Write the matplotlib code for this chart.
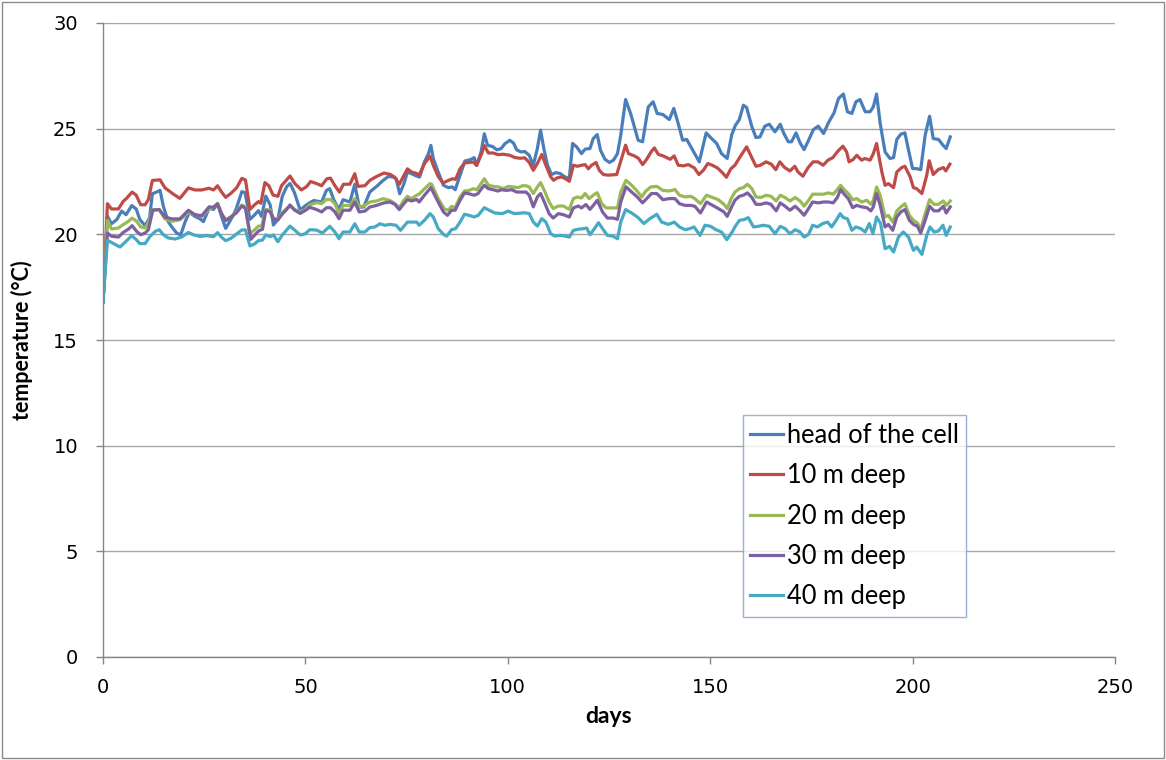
import matplotlib
matplotlib.use("Agg")
import matplotlib.pyplot as plt
from matplotlib.patches import Rectangle

series_labels = ["head of the cell", "10 m deep", "20 m deep", "30 m deep", "40 m deep"]
series_colors = ["#4A7EBB", "#BE4B48", "#98B954", "#7D60A0", "#46AAC5"]

head_days = [0, 1.1, 2.1, 3.4, 4.6, 5.7, 7.1, 8.2, 9.1, 10.4, 11.5, 12.2, 13.1, 14.1, 14.9, 16.1, 17.2, 18.2, 19.2, 20.3, 21.3, 22.7, 24.0, 24.8, 26.2, 27.3, 28.3, 29.3, 30.3, 31.6, 32.8, 34.3, 35.1, 36.3, 37.4, 38.4, 39.2, 40.2, 41.3, 42.1, 43.2, 44.3, 45.4, 46.2, 47.3, 48.7, 49.9, 51.1, 52.1, 54.0, 55.2, 56.0, 57.0, 58.3, 59.3, 61.0, 62.2, 63.3, 64.4, 65.9, 67.6, 69.2, 70.5, 71.7, 72.4, 73.3, 74.3, 75.2, 76.2, 77.2, 78.2, 79.4, 80.4, 81.0, 81.6, 82.8, 84.1, 85.3, 86.3, 87.0, 88.2, 89.4, 90.7, 91.7, 92.3, 93.4, 94.2, 95.0, 96.2, 97.3, 98.3, 99.3, 100.5, 101.4, 102.2, 103.2, 104.2, 105.3, 106.3, 107.3, 108.1, 108.9, 109.8, 110.8, 111.9, 112.9, 114.1, 115.2, 116.0, 117.0, 118.2, 119.1, 120.3, 121.1, 122.1, 122.9, 124.0, 125.1, 126.1, 127.1, 127.9, 129.1, 130.4, 132.2, 133.3, 134.7, 135.9, 136.9, 138.3, 139.9, 141.0, 142.1, 143.2, 144.2, 145.7, 147.3, 149.0, 150.1, 151.6, 152.8, 154.2, 155.3, 156.2, 157.2, 158.2, 159.0, 160.3, 161.3, 162.3, 163.5, 164.6, 166.0, 167.3, 168.2, 169.3, 170.1, 171.2, 172.2, 173.2, 174.3, 175.5, 176.7, 178.0, 179.2, 180.6, 181.7, 182.9, 183.9, 185.0, 186.0, 187.0, 188.3, 189.5, 190.3, 191.1, 192.0, 193.2, 194.4, 195.3, 196.1, 197.1, 198.1, 199.0, 200.0, 201.0, 202.0, 203.1, 204.2, 205.1, 206.4, 207.5, 208.3, 209.3]
head_temp = [16.8, 20.85, 20.5, 20.7, 21.1, 20.93, 21.36, 21.2, 20.7, 20.41, 20.77, 21.92, 21.99, 22.08, 21.33, 20.6, 20.3, 20.06, 19.98, 20.6, 21.04, 20.85, 20.73, 20.6, 21.23, 21.18, 21.44, 20.84, 20.28, 20.71, 21.15, 22.02, 21.97, 20.71, 20.91, 21.12, 20.84, 21.81, 21.39, 20.44, 20.71, 21.81, 22.26, 22.41, 21.97, 21.15, 21.34, 21.5, 21.6, 21.53, 22.08, 22.16, 21.64, 21.17, 21.64, 21.53, 22.37, 21.29, 21.29, 22.0, 22.27, 22.55, 22.74, 22.71, 22.63, 21.92, 22.37, 22.95, 22.87, 22.78, 22.71, 23.42, 23.82, 24.21, 23.58, 22.95, 22.32, 22.21, 22.24, 22.11, 22.79, 23.47, 23.53, 23.63, 23.26, 23.9, 24.76, 24.21, 24.16, 24.0, 24.05, 24.29, 24.45, 24.32, 24.0, 23.9, 23.92, 23.74, 23.27, 24.06, 24.93, 24.06, 23.27, 22.83, 22.92, 22.88, 22.72, 22.64, 24.3, 24.14, 23.82, 24.03, 24.06, 24.53, 24.72, 23.98, 23.55, 23.4, 23.51, 23.82, 24.69, 26.38, 25.68, 24.45, 24.38, 26.03, 26.27, 25.72, 25.67, 25.43, 25.96, 25.24, 24.45, 24.49, 23.98, 23.43, 24.8, 24.58, 24.3, 23.82, 23.59, 24.7, 25.15, 25.43, 26.11, 26.0, 25.09, 24.58, 24.61, 25.12, 25.21, 24.85, 25.21, 24.77, 24.38, 24.38, 24.8, 24.33, 24.01, 24.45, 24.96, 25.12, 24.77, 25.28, 25.75, 26.43, 26.64, 25.8, 25.72, 26.27, 26.38, 25.8, 25.8, 26.03, 26.64, 25.24, 23.9, 23.59, 23.63, 24.49, 24.74, 24.8, 23.98, 23.11, 23.11, 23.06, 24.69, 25.59, 24.53, 24.49, 24.22, 24.06, 24.61]

d10_days = [0, 1.1, 2.1, 3.8, 5.0, 5.8, 7.2, 8.2, 9.3, 10.4, 11.2, 12.2, 14.1, 15.3, 17.4, 19.0, 21.1, 22.7, 24.4, 26.2, 27.3, 28.3, 29.3, 30.3, 31.6, 33.0, 34.3, 35.2, 36.3, 37.4, 38.4, 39.0, 40.0, 41.0, 42.0, 43.2, 44.1, 45.0, 46.2, 47.4, 49.0, 50.3, 51.3, 52.8, 54.0, 55.3, 56.2, 57.3, 58.4, 59.4, 61.0, 62.2, 63.0, 64.7, 65.9, 67.6, 69.4, 70.9, 72.1, 73.2, 74.2, 75.2, 76.2, 77.5, 78.1, 79.4, 80.8, 81.6, 82.8, 84.0, 85.3, 86.3, 87.1, 88.2, 89.3, 90.2, 91.5, 92.3, 93.5, 94.2, 95.2, 96.4, 97.6, 98.9, 100.5, 101.8, 103.0, 104.2, 105.3, 106.3, 107.3, 108.4, 109.4, 110.6, 111.3, 112.2, 113.3, 114.5, 115.2, 116.2, 117.2, 118.2, 119.1, 119.9, 120.7, 121.8, 122.6, 123.6, 124.8, 126.9, 127.9, 129.1, 129.8, 131.3, 132.3, 133.3, 134.3, 135.4, 136.2, 137.2, 138.4, 140.1, 141.1, 142.1, 143.4, 144.6, 146.1, 147.2, 148.3, 149.4, 150.5, 151.8, 153.0, 154.0, 155.1, 156.1, 157.4, 159.0, 160.0, 161.3, 162.4, 163.8, 165.1, 166.2, 167.2, 168.4, 169.7, 170.9, 171.7, 172.9, 174.2, 175.4, 176.6, 177.9, 179.1, 180.3, 181.6, 182.8, 183.7, 184.3, 185.3, 186.2, 187.4, 188.2, 189.5, 190.3, 191.1, 192.4, 193.2, 194.0, 195.3, 196.1, 197.3, 198.1, 199.4, 200.2, 201.0, 202.3, 203.5, 204.1, 205.1, 206.3, 207.6, 208.2, 209.2]
d10_temp = [16.8, 21.45, 21.2, 21.2, 21.56, 21.7, 22.0, 21.85, 21.4, 21.4, 21.64, 22.55, 22.58, 22.2, 21.9, 21.7, 22.2, 22.1, 22.1, 22.18, 22.1, 22.3, 22.0, 21.75, 21.94, 22.2, 22.65, 22.57, 21.18, 21.39, 21.55, 21.47, 22.45, 22.29, 21.86, 21.8, 22.3, 22.5, 22.76, 22.4, 22.1, 22.26, 22.5, 22.4, 22.3, 22.63, 22.66, 22.3, 22.0, 22.37, 22.37, 22.87, 22.27, 22.3, 22.55, 22.74, 22.9, 22.84, 22.7, 22.37, 22.74, 23.1, 22.95, 22.88, 22.8, 23.34, 23.7, 23.26, 22.74, 22.43, 22.55, 22.63, 22.6, 23.1, 23.37, 23.4, 23.42, 23.26, 23.8, 24.2, 23.85, 23.85, 23.77, 23.79, 23.74, 23.63, 23.6, 23.62, 23.4, 23.03, 23.35, 23.78, 23.27, 22.72, 22.56, 22.67, 22.72, 22.6, 22.51, 23.27, 23.22, 23.27, 23.3, 23.1, 23.27, 23.4, 23.03, 22.83, 22.8, 22.83, 23.46, 24.22, 23.82, 23.71, 23.59, 23.3, 23.55, 23.9, 24.09, 23.78, 23.71, 23.55, 23.71, 23.27, 23.24, 23.3, 23.14, 22.83, 23.03, 23.35, 23.27, 23.14, 22.92, 22.7, 23.1, 23.27, 23.67, 24.14, 23.74, 23.22, 23.27, 23.43, 23.32, 23.06, 23.43, 23.16, 23.0, 23.22, 22.95, 22.75, 23.16, 23.43, 23.43, 23.27, 23.51, 23.63, 23.95, 24.17, 23.9, 23.43, 23.54, 23.74, 23.51, 23.59, 23.51, 23.82, 24.3, 22.95, 22.32, 22.4, 22.21, 22.95, 23.16, 23.22, 22.72, 22.21, 22.16, 21.93, 22.8, 23.48, 22.83, 23.06, 23.16, 23.0, 23.32]

d20_days = [0, 1.1, 2.1, 3.8, 5.0, 6.3, 7.2, 8.3, 9.3, 10.4, 11.2, 12.3, 13.9, 15.3, 17.0, 19.0, 21.1, 22.7, 24.4, 26.2, 27.3, 28.3, 29.3, 30.3, 31.6, 33.0, 34.3, 35.2, 36.3, 37.4, 38.4, 39.2, 40.2, 41.3, 42.1, 43.2, 44.3, 45.4, 46.2, 47.3, 48.7, 49.9, 51.1, 52.8, 54.0, 55.2, 56.2, 57.3, 58.3, 59.3, 61.0, 62.2, 63.3, 64.7, 65.9, 67.6, 69.2, 70.9, 72.1, 73.2, 74.2, 75.2, 76.2, 77.5, 78.1, 79.4, 80.8, 81.2, 82.8, 84.3, 85.3, 86.1, 87.0, 88.2, 89.3, 90.4, 91.5, 92.3, 93.4, 94.2, 95.2, 96.4, 97.7, 98.9, 100.1, 101.4, 102.6, 103.6, 104.5, 105.3, 106.3, 107.3, 108.1, 109.2, 110.2, 111.2, 112.5, 113.7, 115.2, 116.2, 117.2, 118.2, 119.1, 120.1, 121.1, 122.1, 123.2, 124.3, 125.7, 127.1, 127.9, 129.2, 130.6, 131.8, 133.1, 134.1, 135.3, 136.8, 138.3, 139.9, 141.3, 142.4, 143.8, 145.2, 146.2, 147.6, 149.1, 150.6, 152.0, 153.4, 154.2, 155.2, 156.1, 157.2, 158.2, 159.2, 160.3, 161.3, 162.5, 163.8, 165.0, 166.3, 167.3, 168.5, 169.7, 171.0, 172.2, 173.2, 174.3, 175.3, 176.7, 178.0, 179.2, 180.4, 181.4, 182.2, 183.1, 184.1, 185.2, 186.2, 187.4, 188.7, 189.7, 190.3, 191.1, 192.0, 193.2, 194.0, 195.1, 196.1, 197.1, 198.1, 199.2, 200.2, 201.2, 202.0, 203.1, 204.2, 205.3, 206.4, 207.6, 208.3, 209.3]
d20_temp = [16.8, 20.66, 20.25, 20.3, 20.46, 20.62, 20.77, 20.62, 20.35, 20.3, 20.54, 21.17, 21.17, 20.73, 20.62, 20.69, 21.04, 20.93, 20.85, 21.2, 21.28, 21.47, 20.99, 20.68, 20.84, 21.07, 21.39, 21.28, 20.05, 20.2, 20.39, 20.39, 21.18, 21.15, 20.76, 20.71, 21.03, 21.23, 21.34, 21.18, 21.07, 21.15, 21.4, 21.5, 21.45, 21.65, 21.65, 21.45, 20.98, 21.37, 21.37, 21.69, 21.29, 21.37, 21.53, 21.58, 21.69, 21.6, 21.45, 21.26, 21.58, 21.8, 21.69, 21.85, 21.9, 22.15, 22.4, 22.37, 21.69, 21.21, 21.14, 21.32, 21.26, 21.77, 22.05, 22.08, 22.16, 22.11, 22.4, 22.63, 22.32, 22.27, 22.24, 22.16, 22.27, 22.24, 22.21, 22.3, 22.3, 22.24, 21.93, 22.24, 22.45, 22.0, 21.53, 21.22, 21.34, 21.34, 21.18, 21.69, 21.77, 21.72, 21.93, 21.69, 21.85, 21.97, 21.45, 21.25, 21.25, 21.25, 22.0, 22.56, 22.32, 22.08, 21.77, 22.05, 22.24, 22.27, 22.08, 22.05, 22.12, 21.85, 21.77, 21.8, 21.69, 21.45, 21.85, 21.74, 21.64, 21.42, 21.22, 21.7, 22.0, 22.16, 22.21, 22.37, 22.16, 21.77, 21.74, 21.85, 21.8, 21.58, 21.85, 21.74, 21.58, 21.74, 21.58, 21.33, 21.61, 21.9, 21.9, 21.9, 21.96, 21.9, 22.12, 22.32, 22.12, 21.93, 21.64, 21.69, 21.53, 21.61, 21.42, 21.61, 22.24, 21.85, 20.82, 20.9, 20.58, 21.11, 21.3, 21.45, 20.9, 20.66, 20.54, 20.22, 20.98, 21.64, 21.42, 21.42, 21.58, 21.37, 21.58]

d30_days = [0, 1.1, 2.1, 3.8, 5.0, 6.3, 7.2, 8.3, 9.3, 10.4, 11.2, 12.3, 13.9, 15.3, 17.0, 19.0, 21.1, 22.7, 24.4, 26.2, 27.3, 28.3, 29.3, 30.3, 31.6, 33.0, 34.3, 35.2, 36.5, 37.5, 38.5, 39.4, 40.2, 41.3, 42.1, 43.2, 44.3, 45.4, 46.2, 47.3, 48.7, 49.9, 51.1, 52.8, 54.0, 55.2, 56.2, 57.3, 58.3, 59.3, 61.0, 62.2, 63.3, 64.7, 65.9, 67.6, 69.2, 70.9, 72.1, 73.2, 74.2, 75.2, 76.2, 77.5, 78.1, 79.4, 81.0, 82.8, 84.1, 85.1, 86.1, 87.0, 88.2, 89.3, 90.4, 91.7, 92.6, 93.5, 94.2, 95.2, 96.4, 97.5, 98.5, 99.7, 101.0, 102.2, 103.5, 104.5, 105.3, 106.3, 107.3, 108.1, 109.2, 110.2, 111.2, 112.5, 113.7, 115.2, 116.2, 117.4, 118.2, 119.3, 120.3, 121.3, 122.1, 123.4, 124.6, 126.1, 127.1, 127.9, 129.2, 130.6, 131.8, 133.3, 134.3, 135.5, 136.8, 138.3, 139.9, 141.3, 142.4, 143.8, 145.2, 146.2, 147.6, 149.1, 150.6, 152.0, 153.4, 154.2, 155.3, 156.1, 157.2, 158.2, 159.2, 160.3, 161.3, 162.5, 163.8, 165.0, 166.3, 167.3, 168.5, 169.7, 171.0, 172.2, 173.2, 174.3, 175.3, 176.7, 178.0, 179.2, 180.4, 181.4, 182.2, 183.1, 184.1, 185.2, 186.2, 187.4, 188.7, 189.7, 190.3, 191.1, 192.0, 193.2, 194.0, 195.1, 196.1, 197.1, 198.1, 199.2, 200.2, 201.2, 202.0, 203.1, 204.2, 205.3, 206.4, 207.6, 208.3, 209.3]
d30_temp = [16.8, 20.06, 19.91, 19.87, 20.09, 20.25, 20.41, 20.14, 19.98, 20.06, 20.22, 21.14, 21.17, 20.82, 20.73, 20.73, 21.14, 20.93, 20.88, 21.3, 21.28, 21.44, 20.96, 20.65, 20.8, 21.03, 21.34, 21.23, 19.76, 19.97, 20.17, 20.24, 21.12, 21.07, 20.71, 20.68, 20.96, 21.18, 21.39, 21.15, 20.99, 21.12, 21.28, 21.17, 21.06, 21.26, 21.26, 21.06, 20.74, 21.14, 21.14, 21.53, 21.06, 21.1, 21.29, 21.37, 21.48, 21.53, 21.42, 21.17, 21.42, 21.64, 21.58, 21.65, 21.53, 21.85, 22.21, 21.53, 21.06, 20.9, 21.14, 21.14, 21.61, 21.96, 21.92, 21.85, 21.92, 22.16, 22.32, 22.16, 22.11, 22.05, 22.11, 22.08, 22.11, 22.0, 22.0, 22.0, 21.85, 21.3, 21.77, 21.93, 21.45, 20.98, 20.77, 20.98, 20.93, 20.82, 21.25, 21.34, 21.25, 21.41, 21.18, 21.41, 21.61, 21.06, 20.77, 20.77, 20.71, 21.53, 22.25, 22.0, 21.8, 21.49, 21.69, 21.93, 21.93, 21.64, 21.69, 21.69, 21.45, 21.37, 21.37, 21.33, 21.01, 21.53, 21.37, 21.22, 21.06, 20.85, 21.3, 21.61, 21.8, 21.85, 21.96, 21.74, 21.42, 21.42, 21.49, 21.42, 21.11, 21.49, 21.33, 21.14, 21.33, 21.11, 20.9, 21.22, 21.53, 21.49, 21.53, 21.53, 21.49, 21.74, 22.12, 21.9, 21.69, 21.26, 21.37, 21.3, 21.26, 21.11, 21.3, 21.93, 21.37, 20.35, 20.47, 20.19, 20.82, 21.06, 21.17, 20.66, 20.47, 20.38, 20.06, 20.66, 21.33, 21.11, 21.11, 21.33, 21.01, 21.3]

d40_days = [0, 1.1, 2.6, 4.2, 5.7, 7.1, 8.2, 9.1, 10.4, 11.6, 12.9, 13.9, 14.9, 16.1, 17.8, 19.4, 21.1, 22.3, 24.0, 25.6, 27.3, 28.3, 29.3, 30.3, 31.6, 33.0, 34.3, 35.2, 36.3, 37.4, 38.4, 39.4, 40.2, 41.3, 42.1, 43.2, 44.3, 45.4, 46.2, 47.3, 48.7, 49.9, 51.1, 52.8, 54.2, 56.0, 57.3, 58.3, 59.3, 61.0, 62.2, 63.3, 64.7, 65.9, 67.2, 68.4, 69.6, 70.9, 72.4, 73.5, 75.2, 76.6, 77.5, 78.1, 79.4, 80.8, 81.6, 82.8, 84.1, 84.9, 86.1, 87.1, 88.2, 89.3, 90.4, 91.7, 92.7, 94.2, 95.4, 96.8, 98.7, 100.1, 101.6, 103.0, 104.2, 105.3, 106.3, 107.3, 108.4, 109.4, 110.6, 111.6, 112.9, 114.1, 115.2, 116.2, 117.4, 118.7, 119.5, 120.3, 121.3, 122.4, 123.4, 124.6, 125.9, 127.1, 127.9, 129.1, 130.6, 132.2, 133.6, 135.1, 136.8, 138.0, 139.7, 141.1, 142.4, 143.8, 145.0, 146.0, 147.5, 148.7, 150.1, 151.4, 152.8, 154.1, 155.4, 156.1, 157.2, 158.4, 159.4, 160.7, 161.9, 163.1, 164.6, 166.0, 167.3, 168.5, 169.7, 171.0, 172.2, 173.2, 174.3, 175.3, 176.5, 177.8, 179.0, 180.0, 181.1, 182.1, 182.9, 183.9, 185.0, 186.0, 187.2, 188.3, 189.3, 190.2, 191.1, 192.1, 193.2, 194.3, 195.3, 196.5, 197.7, 199.0, 200.2, 201.0, 202.3, 203.5, 204.3, 205.3, 206.4, 207.5, 208.3, 209.3]
d40_temp = [16.8, 19.72, 19.56, 19.4, 19.67, 19.94, 19.75, 19.56, 19.56, 19.9, 20.14, 20.22, 19.98, 19.83, 19.78, 19.87, 20.09, 19.98, 19.9, 19.94, 19.89, 20.08, 19.86, 19.7, 19.81, 20.02, 20.21, 20.21, 19.45, 19.54, 19.7, 19.73, 19.97, 19.89, 19.97, 19.65, 19.97, 20.21, 20.39, 20.21, 19.97, 20.02, 20.22, 20.2, 20.06, 20.38, 20.11, 19.79, 20.11, 20.11, 20.5, 20.11, 20.11, 20.32, 20.35, 20.5, 20.43, 20.47, 20.43, 20.19, 20.58, 20.58, 20.58, 20.43, 20.66, 20.98, 20.82, 20.27, 20.0, 19.91, 20.22, 20.27, 20.58, 20.95, 20.9, 20.82, 20.9, 21.26, 21.14, 21.01, 20.98, 21.1, 20.98, 21.0, 21.02, 20.98, 20.58, 20.39, 20.74, 20.58, 20.03, 19.92, 19.95, 19.92, 19.87, 20.19, 20.24, 20.27, 20.3, 19.98, 20.24, 20.55, 20.27, 19.95, 19.92, 19.79, 20.58, 21.17, 21.01, 20.79, 20.51, 20.74, 20.95, 20.58, 20.47, 20.58, 20.35, 20.22, 20.27, 20.35, 19.95, 20.43, 20.38, 20.22, 20.11, 19.75, 20.1, 20.35, 20.66, 20.7, 20.79, 20.35, 20.38, 20.43, 20.38, 20.03, 20.38, 20.27, 20.03, 20.22, 20.11, 19.87, 20.0, 20.43, 20.35, 20.51, 20.58, 20.35, 20.66, 20.98, 20.79, 20.74, 20.19, 20.35, 20.27, 20.11, 20.51, 20.03, 20.82, 20.51, 19.32, 19.43, 19.16, 19.87, 20.11, 19.87, 19.24, 19.4, 19.05, 19.95, 20.35, 20.11, 20.16, 20.43, 19.95, 20.35]

x_ticks = [0, 50, 100, 150, 200, 250]
y_ticks = [0, 5, 10, 15, 20, 25, 30]
x_label = "days"
y_label = "temperature (°C)"

all_days = [head_days, d10_days, d20_days, d30_days, d40_days]
all_temps = [head_temp, d10_temp, d20_temp, d30_temp, d40_temp]

fig = plt.figure(figsize=(11.66, 7.6), dpi=100)
fig.patches.append(Rectangle((0.0015, 0.002), 0.997, 0.995, transform=fig.transFigure,
                             fill=False, edgecolor="#8C8C8C", linewidth=1.0))
ax = fig.add_axes([103 / 1166, 1 - 657 / 760, 1012 / 1166, 634 / 760])

for d, t, lab, col in zip(all_days, all_temps, series_labels, series_colors):
    ax.plot(d, t, color=col, linewidth=2.3, label=lab, solid_joinstyle="round")

ax.set_xlim(0, 250)
ax.set_ylim(0, 30)
ax.set_xticks(x_ticks)
ax.set_yticks(y_ticks)
ax.yaxis.grid(True, color="#A6A6A6", linewidth=1.0)
ax.set_axisbelow(True)
for s in ["top", "right"]:
    ax.spines[s].set_visible(False)
for s in ["left", "bottom"]:
    ax.spines[s].set_color("#868686")
    ax.spines[s].set_linewidth(1.0)
ax.tick_params(axis="both", direction="out", length=5, width=1, color="#868686",
               labelsize=14, labelcolor="black")
ax.tick_params(axis="y", pad=13)
ax.tick_params(axis="x", pad=10)
ax.set_xlabel(x_label, fontsize=16.5, fontweight="bold", family="Lato")
ax.set_ylabel(y_label, fontsize=15.5, fontweight="bold", family="Lato")
ax.xaxis.set_label_coords(0.5, -0.077)
ax.yaxis.set_label_coords(-0.069, 0.5)

leg = ax.legend(loc="lower left", bbox_to_anchor=(0.632, 0.063), frameon=True,
                fancybox=False, prop={"family": "Lato", "size": 18.4},
                handlelength=1.3, handletextpad=0.12, labelspacing=0.6,
                borderpad=0.3, borderaxespad=0)
leg.get_frame().set_edgecolor("#7F9FD0")
leg.get_frame().set_linewidth(1.0)
for line in leg.get_lines():
    line.set_linewidth(2.3)

fig.savefig("out.png", dpi=100)
